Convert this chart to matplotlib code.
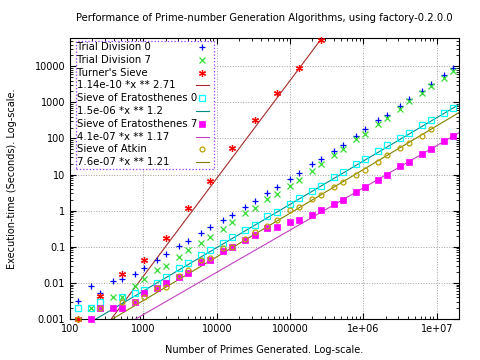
import numpy as np
import matplotlib
matplotlib.use("Agg")
import matplotlib.pyplot as plt
from matplotlib.patches import Rectangle
from matplotlib.ticker import FixedLocator, FixedFormatter, LogLocator, NullFormatter

nan = np.nan

# number of primes generated (2^n and 1.5*2^n)
primes = [128, 192, 256, 384, 512, 768, 1024, 1536, 2048, 3072, 4096, 6144, 8192,
          12288, 16384, 24576, 32768, 49152, 65536, 98304, 131072, 196608, 262144,
          393216, 524288, 786432, 1048576, 1572864, 2097152, 3145728, 4194304,
          6291456, 8388608, 12582912, 16777216]

trial0 = [0.0032, 0.0083, 0.0052, 0.0116, 0.0124, 0.0178, 0.0266, 0.0436, 0.064, 0.102,
          0.147, 0.24, 0.344, 0.55, 0.77, 1.27, 1.9, 3.16, 4.64, 7.7, 11.1, 19, 27.8,
          46, 68, 116, 178, 316, 444, 789, 1211, 2050, 3300, 5600, 8700]

trial7 = [nan, 0.002, 0.002, 0.004, 0.004, 0.0083, 0.0126, 0.022, 0.03, 0.051, 0.079,
          0.13, 0.19, 0.32, 0.49, 0.84, 1.19, 2.1, 2.9, 4.9, 7.2, 12.9, 19, 34, 52, 94,
          135, 245, 360, 650, 1100, 1780, 2750, 4600, 7400]

turner = [0.001, nan, 0.0042, nan, 0.0174, nan, 0.044, nan, 0.17, nan, 1.19, nan, 6.5,
          nan, 56, nan, 316, nan, 1780, nan, 8700, nan, 53000, nan, nan, nan, nan, nan,
          nan, nan, nan, nan, nan, nan, nan]

erat0 = [0.002, 0.002, 0.003, nan, 0.004, 0.0052, 0.0064, 0.0102, 0.015, 0.0257, 0.035,
         0.06, 0.083, 0.13, 0.186, 0.29, 0.41, 0.69, 0.92, 1.55, 2.2, 3.5, 4.9, 8.4,
         11.8, 19, 27, 45, 64, 105, 144, 230, 323, 515, 705]

erat7 = [nan, 0.001, 0.002, 0.002, 0.002, 0.003, 0.0052, 0.007, 0.0098, 0.015, 0.0186,
         0.037, 0.044, 0.074, 0.1, 0.155, 0.215, 0.33, 0.35, 0.47, 0.54, 0.76, 1.05,
         1.55, 1.96, 3.3, 4.6, 7.0, 10, 17, 22.3, 38, 52, 87, 115]

atkin = [0.001, nan, 0.002, nan, 0.003, 0.003, 0.004, 0.007, 0.0079, 0.0158, 0.023,
         0.044, 0.048, 0.091, 0.1, 0.16, 0.26, 0.38, 0.56, 1.05, 1.3, 2.1, 2.76, 4.6,
         6.2, 9.6, 13.8, 22.3, 34, 55, 76, 120, 178, nan, nan]

# fitted curves  a * x ** b, as given in the legend
fit_turner = (1.14e-10, 2.71)
fit_erat0 = (1.5e-06, 1.2)
fit_erat7 = (4.1e-07, 1.17)
fit_atkin = (7.6e-07, 1.21)

xticks = [100, 1000, 10000, 100000, 1e6, 1e7]
xticklabels = ["100", "1000", "10000", "100000", "1e+06", "1e+07"]
yticks = [0.001, 0.01, 0.1, 1, 10, 100, 1000, 10000]
yticklabels = ["0.001", "0.01", "0.1", "1", "10", "100", "1000", "10000"]

plt.rcParams['font.family'] = ['DejaVu Sans']
plt.rcParams['font.size'] = 7

fig = plt.figure(figsize=(4.8, 3.6), dpi=100)
ax = fig.add_axes([0.146, 0.114, 0.81, 0.78])
ax.set_xscale('log')
ax.set_yscale('log')
ax.set_xlim(100, 2e7)
ax.set_ylim(0.001, 6e4)

x = np.array(primes, dtype=float)
xx = np.logspace(2, np.log10(2e7), 400)

def fit(p):
    return p[0] * xx ** p[1]

# (label, style dict) for the key, in order
legend_rows = []

ms = 5
st = dict(ls='none', marker='+', color='#0000ff', ms=ms, mew=0.9)
ax.plot(x, trial0, clip_on=False, zorder=3, **st)
legend_rows.append(("Trial Division 0", st))

st = dict(ls='none', marker='x', color='#33dd33', ms=ms - 0.5, mew=0.9)
ax.plot(x, trial7, clip_on=False, zorder=3, **st)
legend_rows.append(("Trial Division 7", st))

st = dict(ls='none', marker=(6, 2, 0), color='#ff0000', ms=ms, mew=0.9)
ax.plot(x, turner, clip_on=False, zorder=3, **st)
legend_rows.append(("Turner's Sieve", st))

st = dict(ls='-', color='#a52a2a', lw=0.8)
ax.plot(xx, fit(fit_turner), **st)
legend_rows.append(("1.14e-10 *x ** 2.71", st))

st = dict(ls='none', marker='s', color='#00ffff', mfc='none', ms=ms - 0.5, mew=0.9)
ax.plot(x, erat0, clip_on=False, zorder=3, **st)
legend_rows.append(("Sieve of Eratosthenes 0", st))

st = dict(ls='-', color='#008b8b', lw=0.8)
ax.plot(xx, fit(fit_erat0), **st)
legend_rows.append(("1.5e-06 *x ** 1.2", st))

st = dict(ls='none', marker='s', color='#ff00ff', ms=ms - 0.5, mew=0.5)
ax.plot(x, erat7, clip_on=False, zorder=3, **st)
legend_rows.append(("Sieve of Eratosthenes 7", st))

st = dict(ls='-', color='#c040c0', lw=0.8)
ax.plot(xx, fit(fit_erat7), **st)
legend_rows.append(("4.1e-07 *x ** 1.17", st))

st = dict(ls='none', marker='o', color='#b8a000', mfc='none', ms=ms - 1.5, mew=0.9)
ax.plot(x, atkin, clip_on=False, zorder=4, **st)
legend_rows.append(("Sieve of Atkin", st))

st = dict(ls='-', color='#808000', lw=0.8)
ax.plot(xx, fit(fit_atkin), **st)
legend_rows.append(("7.6e-07 *x ** 1.21", st))

ax.xaxis.set_major_locator(FixedLocator(xticks))
ax.xaxis.set_major_formatter(FixedFormatter(xticklabels))
ax.yaxis.set_major_locator(FixedLocator(yticks))
ax.yaxis.set_major_formatter(FixedFormatter(yticklabels))
ax.xaxis.set_minor_locator(LogLocator(base=10, subs=np.arange(2, 10)))
ax.yaxis.set_minor_locator(LogLocator(base=10, subs=np.arange(2, 10)))
ax.xaxis.set_minor_formatter(NullFormatter())
ax.yaxis.set_minor_formatter(NullFormatter())
ax.tick_params(which='both', direction='in', top=True, right=True, labelsize=7)
ax.tick_params(which='major', length=4, width=0.8)
ax.tick_params(which='minor', length=2, width=0.6)
ax.grid(True, which='major', color='#a0a0a0', ls=':', lw=0.7)

ax.set_title("Performance of Prime-number Generation Algorithms, using factory-0.2.0.0", fontsize=7.2, pad=12)
ax.set_xlabel("Number of Primes Generated. Log-scale.", fontsize=7, labelpad=8)
ax.set_ylabel("Execution-time (Seconds). Log-scale.", fontsize=7, labelpad=13)

# gnuplot style key: text left, sample right, dotted box
box_l, box_r, box_t, box_b = 0.015, 0.37, 0.99, 0.535
ax.add_patch(Rectangle((box_l, box_b), box_r - box_l, box_t - box_b, transform=ax.transAxes,
                       facecolor='white', edgecolor='#9b30ff', ls=':', lw=0.9, zorder=5, clip_on=False))
row_top = 0.968
row_step = 0.0455
for i, (label, st) in enumerate(legend_rows):
    yy = row_top - i * row_step
    ax.text(box_l + 0.004, yy, label, transform=ax.transAxes, fontsize=7.3,
            ha='left', va='center', zorder=6)
    if st['ls'] == 'none':
        ax.plot([0.34], [yy], transform=ax.transAxes, clip_on=False, zorder=6, **st)
    else:
        ax.plot([0.325, 0.357], [yy, yy], transform=ax.transAxes, clip_on=False, zorder=6, **st)

fig.savefig("out.png", dpi=100)
